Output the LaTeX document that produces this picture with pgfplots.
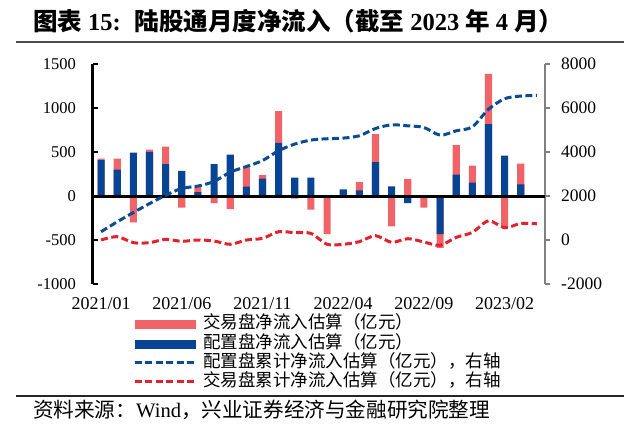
\documentclass[border=0pt]{standalone}
\usepackage{pgfplots}
\usepackage{pgfplotstable}
\pgfplotsset{compat=1.18}
\usepackage{fontspec}
\setmainfont{Liberation Serif}
\newfontfamily\cjk{Noto Sans CJK SC}
\definecolor{barred}{RGB}{240,100,105}
\definecolor{barblue}{RGB}{8,68,148}
\definecolor{linered}{RGB}{225,35,45}
\definecolor{lineblue}{RGB}{10,76,148}

% i: month index from 2021/01; blue = 配置盘; redtop = top (or bottom) of the red segment as drawn
\pgfplotstableread{
i  blue  redtop  blcum  rdcum
0  407   426     376    0
1  300   426     827    150
2  494   -300    1248   -120
3  502   528     1654   -120
4  361   562     2030   30
5  285   -133    2346   -60
6  45    118     2451   0
7  361   -80     2662   -45
8  471   -148    3083   -195
9  106   331     3339   0
10 198   236     3610   75
11 604   965     4061   376
12 209   -30     4362   331
13 209   -156    4542   300
14 0     -433    4602   -195
15 76    0       4632   -195
16 65    160     4738   -75
17 384   703     5068   195
18 110   -346    5234   -105
19 -80   194     5189   60
20 0     -133    5114   -90
21 -433  -589    4768   -240
22 243   578     4963   120
23 152   346     5144   346
24 817   1387    5941   872
25 460   -353    6422   556
26 133   369     6542   752
27 nan   nan     6572   737
}\data

\begin{document}
\begin{tikzpicture}
% axis box lower-left corner is at (0,0); page = 640 x 429 pt
\path[use as bounding box] (-93pt,-145pt) rectangle (547pt,284pt);

% title
\node[anchor=west, inner sep=0pt] at (-60pt,263pt) {\fontsize{24.5}{24.5}\selectfont\bfseries {\cjk 图表}\hspace{6pt}15:\hspace{14pt}{\cjk 陆股通月度净流入（截至}\hspace{6pt}2023\hspace{6pt}{\cjk 年}\hspace{6pt}4\hspace{6pt}{\cjk 月）}};
\draw[line width=1.2pt, black!70] (-77pt,242pt) -- (531pt,242pt);

% source
\draw[line width=1.2pt, black!85] (-77pt,-112pt) -- (531pt,-112pt);
\node[anchor=west, inner sep=0pt] at (-60pt,-126pt) {\fontsize{20.6}{20.6}\selectfont{\cjk 资料来源：}Wind{\cjk ，兴业证券经济与金融研究院整理}};

\begin{axis}[
  width=452pt, height=220pt, scale only axis,
  xmin=-0.5, xmax=27.5, ymin=-1000, ymax=1500,
  ybar, bar width=0.44,
  axis y line*=left, axis x line*=bottom,
  axis line style={-},
  x axis line style={draw=none},
  y axis line style={line width=3pt, black},
  xtick={0,5,10,15,20,25},
  xticklabels={2021/01,2021/06,2021/11,2022/04,2022/09,2023/02},
  xtick style={draw=none},
  ytick={-1000,-500,0,500,1000,1500},
  ytick style={black, line width=2pt},
  tick align=inside, major tick length=5pt,
  /pgf/number format/assume math mode=true,
  /pgf/number format/1000 sep={},
  yticklabel style={font=\fontsize{16.5}{16.5}\selectfont, inner sep=0pt, anchor=east, xshift=-17pt},
  xticklabel style={font=\fontsize{18}{18}\selectfont, inner sep=0pt, anchor=base, yshift=-25pt},
  clip=false,
]
\addplot[fill=barred, draw=none, bar shift=0pt] table[x=i, y=redtop] {\data};
\addplot[fill=barblue, draw=none, bar shift=0pt] table[x=i, y=blue] {\data};
\end{axis}

\begin{axis}[
  width=452pt, height=220pt, scale only axis,
  xmin=-0.5, xmax=27.5, ymin=-2000, ymax=8000,
  axis y line*=right, axis x line=none,
  axis line style={-},
  y axis line style={line width=1.5pt, black!50},
  ytick={-2000,0,2000,4000,6000,8000},
  ytick style={black!50, line width=1.5pt},
  tick align=outside, major tick length=5pt,
  /pgf/number format/assume math mode=true,
  /pgf/number format/1000 sep={},
  yticklabel style={font=\fontsize{17.5}{17.5}\selectfont, inner sep=0pt, anchor=west, xshift=11pt},
  clip=false,
  legend image code/.code={\draw[#1] (0pt,0pt) -- (60pt,0pt);},
  legend cell align=left,
  legend style={at={(axis description cs:0.0885,-0.151)}, anchor=north west,
    draw=none, fill=none, inner sep=0pt, column sep=7pt, row sep=4.6pt,
    nodes={inner sep=0pt, text height=11.5pt, text depth=3pt},
    font=\fontsize{17.5}{17.5}\selectfont\cjk},
]
\addlegendimage{legend image code/.code={\fill[barred] (0pt,-4pt) rectangle (60pt,4pt);}}
\addlegendentry{交易盘净流入估算（亿元）}
\addlegendimage{legend image code/.code={\fill[barblue] (0pt,-4pt) rectangle (60pt,4pt);}}
\addlegendentry{配置盘净流入估算（亿元）}
\addplot[black, line width=3pt, forget plot] coordinates {(-0.5,2000) (27.5,2000)};
\addplot[lineblue, line width=3pt, dash pattern=on 7pt off 3.5pt, smooth] table[x=i, y=blcum] {\data};
\addlegendentry{配置盘累计净流入估算（亿元），右轴}
\addplot[linered, line width=3pt, dash pattern=on 7pt off 3.5pt, smooth] table[x=i, y=rdcum] {\data};
\addlegendentry{交易盘累计净流入估算（亿元），右轴}
\end{axis}
\end{tikzpicture}
\end{document}
